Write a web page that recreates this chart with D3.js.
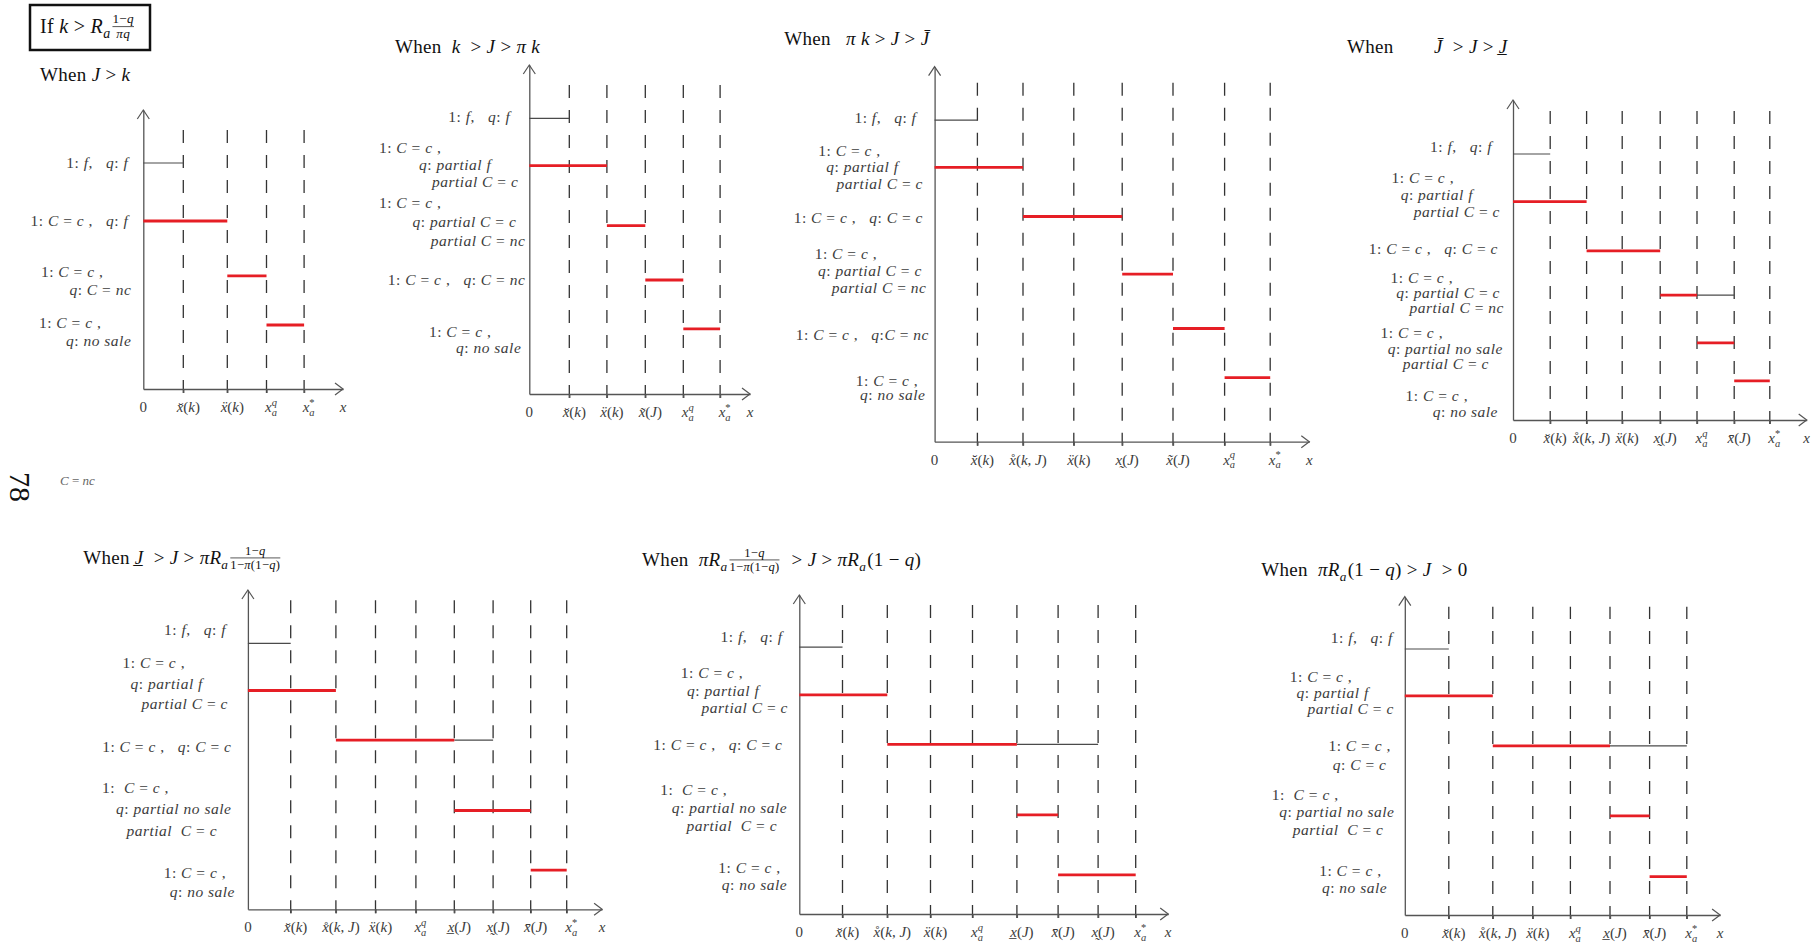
<!DOCTYPE html>
<html>
<head>
<meta charset="utf-8">
<script src="https://cdn.jsdelivr.net/npm/d3@7"></script>
<style>
  body { margin: 0; background: #fff; }
  svg { display: block; }
  text { font-family: "Liberation Serif", "Times New Roman", serif; }
</style>
</head>
<body>
<svg id="chart"></svg>
<script>
// ---- DATA ----
// \r{..} = roman text, _ / ^ = sub / sup, \f{num}{den} = small fraction
const boxTitle = "\\r{If} k > R_a\\f{1−q}{πq}";
const panelTitles = [
  "\\r{When} J > k",
  "\\r{When}  k  > J > π k",
  "\\r{When}   π k > J > J\u0304",
  "\\r{When}        J\u0304  > J > J\u0332",
  "\\r{When} J\u0332  > J > πR_a\\f{1−q}{1−π(1−q)}",
  "\\r{When}  πR_a\\f{1−q}{1−π(1−q)}  > J > πR_a(1 − q)",
  "\\r{When}  πR_a(1 − q) > J  > 0"
];

// thresholds on the x axis (index 0 is the origin)
const tickValues = [
  [0, 1.0, 2.1, 3.08, 4.02],
  [0, 1.0, 1.94, 2.9, 3.85, 4.77],
  [0, 1.07, 2.21, 3.48, 4.69, 5.96, 7.25, 8.39],
  [0, 0.93, 1.84, 2.73, 3.68, 4.6, 5.53, 6.42],
  [0, 1.07, 2.2, 3.19, 4.2, 5.16, 6.13, 7.07, 7.97],
  [0, 1.08, 2.2, 3.28, 4.33, 5.44, 6.47, 7.47, 8.41],
  [0, 1.1, 2.2, 3.2, 4.14, 5.13, 6.12, 7.05]
];
const XB = "x\u0306(k)", XR = "x\u030A(k, J)", XD = "x\u0308(k)", XQ = "x_a^q", XS = "x_a^*";
const XT = "x\u0303(J)", XU = "x\u0332(J)", XW = "x\u0330(J)", XO = "x\u0304(J)";
const tickLabels = [
  ["0", XB, XD, XQ, XS],
  ["0", XB, XD, XT, XQ, XS],
  ["0", XB, XR, XD, XW, XT, XQ, XS],
  ["0", XB, XR, XD, XW, XQ, XO, XS],
  ["0", XB, XR, XD, XQ, XU, XW, XO, XS],
  ["0", XB, XR, XD, XQ, XU, XO, XW, XS],
  ["0", XB, XR, XD, XQ, XU, XO, XS]
];

// height of each outcome row
const rowLevels = [
  [5.65, 4.2, 2.83, 1.6],
  [6.89, 5.71, 4.21, 2.85, 1.63],
  [8.04, 6.86, 5.63, 4.19, 2.83, 1.6],
  [6.65, 5.46, 4.23, 3.12, 1.93, 0.98],
  [6.65, 5.47, 4.23, 2.47, 0.98],
  [6.67, 5.48, 4.24, 2.48, 0.98],
  [6.65, 5.48, 4.23, 2.48, 0.96]
];

const FF = ["1: f,   q: f"];
const PF = ["1: C = c ,", "q: partial f", "partial C = c"];
const PC = ["1: C = c ,", "q: partial C = c", "partial C = nc"];
const PN = ["1:  C = c ,", "q: partial no sale", "partial  C = c"];
const NS = ["1: C = c ,", "q: no sale"];
const rowLabels = [
  [FF, ["1: C = c ,   q: f"], ["1: C = c ,", "q: C = nc"], NS],
  [FF, PF, PC, ["1: C = c ,   q: C = nc"], NS],
  [FF, PF, ["1: C = c ,   q: C = c"], PC, ["1: C = c ,   q:C = nc"], NS],
  [FF, PF, ["1: C = c ,   q: C = c"], PC, ["1: C = c ,", "q: partial no sale", "partial C = c"], NS],
  [FF, PF, ["1: C = c ,   q: C = c"], PN, NS],
  [FF, PF, ["1: C = c ,   q: C = c"], PN, NS],
  [FF, PF, ["1: C = c ,", "q: C = c"], PN, NS]
];

// [row, from tick, to tick, kind]  r = equilibrium (red), k = other
const segments = [
  [[0, 0, 1, "k"], [1, 0, 2, "r"], [2, 2, 3, "r"], [3, 3, 4, "r"]],
  [[0, 0, 1, "k"], [1, 0, 2, "r"], [2, 2, 3, "r"], [3, 3, 4, "r"], [4, 4, 5, "r"]],
  [[0, 0, 1, "k"], [1, 0, 2, "r"], [2, 2, 4, "r"], [3, 4, 5, "r"], [4, 5, 6, "r"], [5, 6, 7, "r"]],
  [[0, 0, 1, "k"], [1, 0, 2, "r"], [2, 2, 4, "r"], [3, 5, 6, "k"], [3, 4, 5, "r"], [4, 5, 6, "r"], [5, 6, 7, "r"]],
  [[0, 0, 1, "k"], [1, 0, 2, "r"], [2, 5, 6, "k"], [2, 2, 5, "r"], [3, 5, 7, "r"], [4, 7, 8, "r"]],
  [[0, 0, 1, "k"], [1, 0, 2, "r"], [2, 5, 7, "k"], [2, 2, 5, "r"], [3, 5, 6, "r"], [4, 6, 8, "r"]],
  [[0, 0, 1, "k"], [1, 0, 2, "r"], [2, 5, 7, "k"], [2, 2, 5, "r"], [3, 5, 6, "r"], [4, 6, 7, "r"]]
];

// ---- LAYOUT ----
// rows: [block offset, line height, right gap of each line]
const UNIT = 40;
const panelLayout = [
  { ox: 143.3, oy: 389, xEnd: 343, yTop: 110, tx: 40, ty: 81,
    rows: [[0, 0, 15], [0, 0, 15], [5, 18, 40, 12], [7, 18, 42, 12]] },
  { ox: 529.3, oy: 394, xEnd: 750, yTop: 65, tx: 395, ty: 52.7,
    rows: [[-1.6, 0, 19], [-0.7, 17, 88, 38, 11], [-3.7, 19, 88, 13, 4], [0, 0, 4], [11, 16, 38, 8]] },
  { ox: 934.6, oy: 441.7, xEnd: 1309.3, yTop: 66.7, tx: 784.3, ty: 45,
    rows: [[-2.3, 0, 18.2], [-0.3, 16.5, 53.9, 36, 11.7], [1, 0, 11.7], [-3, 17, 57.5, 12.8, 8.2], [6.3, 0, 5.7], [10.6, 14, 16.4, 9.2]] },
  { ox: 1513, oy: 420, xEnd: 1806.7, yTop: 100, tx: 1347, ty: 52.7,
    rows: [[-7.3, 0, 21], [-6.5, 17.3, 59, 40, 13], [-1.7, 0, 15], [-1.8, 15, 60, 13, 9], [6, 15.5, 70, 10, 24], [22.9, 15.7, 45, 15]] },
  { ox: 247.9, oy: 909.3, xEnd: 602.1, yTop: 590, tx: 83.2, ty: 564,
    rows: [[-13.3, 0, 21.8], [-6.9, 20.5, 62.9, 45, 20], [6.7, 0, 16.5], [-1.2, 21.2, 79, 16.5, 30.8], [12.5, 19, 21.8, 12.9]] },
  { ox: 799.3, oy: 914, xEnd: 1168.2, yTop: 595, tx: 642.1, ty: 566,
    rows: [[-10.6, 0, 16.8], [-3.9, 17.5, 56.1, 40, 11.4], [0.7, 0, 16.8], [-6.7, 18.3, 72.2, 12.2, 22.2], [1.7, 16.7, 18.6, 12.2]] },
  { ox: 1404.8, oy: 915, xEnd: 1720.1, yTop: 596.7, tx: 1261.3, ty: 576,
    rows: [[-10.7, 0, 12.1], [-3, 16.3, 52.6, 36, 11], [9.5, 19, 14, 18.4], [-3.5, 17.5, 66.2, 10.3, 21.3], [3, 17.3, 23.2, 17.6]] }
];

const RED = "#e61e25", GRAY = "#4a4a4a", TXT = "#3c3c3c";
const LABEL_SIZE = 15.5, TICK_SIZE = 15, TITLE_SIZE = 19;
const W = 1817, H = 943;

// ---- MATH TEXT ----
const COMB = /[\u0300-\u036f]/;
function tokenize(str) {
  const out = [];
  let i = 0;
  function group() {
    let depth = 0;
    const start = i;
    for (; i < str.length; i++) {
      if (str[i] === "{") depth++;
      else if (str[i] === "}") {
        depth--;
        if (depth === 0) { i++; return str.slice(start + 1, i - 1); }
      }
    }
    return str.slice(start + 1);
  }
  function arg() {
    if (str[i] === "{") return group();
    let s = str[i++];
    while (i < str.length && COMB.test(str[i])) s += str[i++];
    return s;
  }
  while (i < str.length) {
    const c = str[i];
    if (c === "_" || c === "^") { i++; out.push({ type: c === "_" ? "sub" : "sup", s: arg() }); }
    else if (str.startsWith("\\f", i)) { i += 2; const num = group(); const den = group(); out.push({ type: "frac", num, den }); }
    else if (str.startsWith("\\r", i)) { i += 2; out.push({ type: "rm", s: group() }); }
    else {
      let s = c; i++;
      while (i < str.length && COMB.test(str[i])) s += str[i++];
      out.push({ type: "ch", s });
    }
  }
  return out;
}

// split plain text into italic (letters) and roman runs
function runs(s) {
  const res = [];
  let i = 0;
  while (i < s.length) {
    let ch = s[i++];
    while (i < s.length && COMB.test(s[i])) ch += s[i++];
    const it = /[A-Za-zπ]/.test(ch[0]);
    const last = res[res.length - 1];
    if (last && (last.it === it || ch === " ")) last.s += ch;
    else res.push({ s: ch, it });
  }
  return res;
}

let spacing = 0;
function putText(g, s, x, y, fs, italic, color) {
  const t = g.append("text")
    .attr("x", x).attr("y", y)
    .attr("font-size", fs)
    .attr("font-style", italic ? "italic" : "normal")
    .attr("letter-spacing", spacing)
    .attr("fill", color)
    .attr("xml:space", "preserve")
    .text(s);
  return t.node().getComputedTextLength();
}

function putRuns(g, s, x, y, fs, color, roman) {
  let w = 0;
  runs(s).forEach((r) => { w += putText(g, r.s, x + w, y, fs, r.it && !roman, color); });
  return w;
}

function drawMath(parent, str, size, color) {
  const g = parent.append("g");
  let x = 0, buf = "", subX = null, prev = null;
  function flush() {
    if (buf) { x += putRuns(g, buf, x, 0, size, color, false); buf = ""; }
  }
  tokenize(str).forEach((tk) => {
    if (tk.type === "ch") { buf += tk.s; prev = "ch"; return; }
    flush();
    if (tk.type === "rm") { x += putRuns(g, tk.s, x, 0, size, color, true); prev = "rm"; }
    else if (tk.type === "sub") {
      subX = x;
      x += putRuns(g, tk.s, x, size * 0.25, size * 0.7, color, false) + 1;
      prev = "sub";
    } else if (tk.type === "sup") {
      const sx = prev === "sub" ? subX : x;
      const w = putRuns(g, tk.s, sx, -size * 0.42, size * 0.7, color, false) + 1;
      x = Math.max(x, sx + w);
      prev = "sup";
    } else if (tk.type === "frac") {
      const fs = size * 0.66;
      const ng = g.append("g"), dg = g.append("g");
      const wn = putRuns(ng, tk.num, 0, -size * 0.5, fs, color, false);
      const wd = putRuns(dg, tk.den, 0, size * 0.27, fs, color, false);
      const w = Math.max(wn, wd) + 2;
      ng.attr("transform", `translate(${x + 1 + (w - 2 - wn) / 2},0)`);
      dg.attr("transform", `translate(${x + 1 + (w - 2 - wd) / 2},0)`);
      g.append("line")
        .attr("x1", x + 1).attr("x2", x + w - 1)
        .attr("y1", -size * 0.32).attr("y2", -size * 0.32)
        .attr("stroke", color).attr("stroke-width", 0.7);
      x += w + 1;
      prev = "frac";
    }
  });
  flush();
  return { g, w: x };
}

function place(parent, str, x, y, size, color, anchor, ls) {
  spacing = ls || 0;
  const m = drawMath(parent, str, size, color);
  const dx = anchor === "end" ? m.w : anchor === "middle" ? m.w / 2 : 0;
  m.g.attr("transform", `translate(${x - dx},${y})`);
  spacing = 0;
  return m;
}

// ---- DRAW ----
const svg = d3.select("#chart").attr("width", W).attr("height", H);
svg.append("rect").attr("width", W).attr("height", H).attr("fill", "#fff");

// boxed condition
svg.append("rect")
  .attr("x", 30).attr("y", 5).attr("width", 120).attr("height", 45)
  .attr("fill", "none").attr("stroke", "#111").attr("stroke-width", 2.5);
place(svg, boxTitle, 40, 33, 20, "#111", "start", 0.3);

// page number and stray text
svg.append("text")
  .attr("transform", "translate(10,487) rotate(90)")
  .attr("text-anchor", "middle")
  .attr("font-size", 30)
  .attr("fill", "#111")
  .text("78");
place(svg, "C = nc", 60, 485, 13, "#666", "start");

panelLayout.forEach((L, p) => {
  const ticks = tickValues[p];
  const x = d3.scaleLinear().domain([0, (L.xEnd - L.ox) / UNIT]).range([L.ox, L.xEnd]);
  const y = d3.scaleLinear().domain([0, (L.oy - L.yTop) / UNIT]).range([L.oy, L.yTop]);
  const g = svg.append("g").attr("class", "panel");

  // dashed guides at each threshold
  g.selectAll("line.guide")
    .data(ticks.slice(1))
    .join("line")
    .attr("class", "guide")
    .attr("x1", (d) => x(d)).attr("x2", (d) => x(d))
    .attr("y1", L.oy + 4).attr("y2", L.yTop + 10)
    .attr("stroke", "#333").attr("stroke-width", 1.3)
    .attr("stroke-dasharray", "13,12");

  // axes
  const xAxis = g.append("g")
    .attr("transform", `translate(0,${L.oy})`)
    .call(d3.axisBottom(x).tickValues(ticks.slice(1)).tickSizeInner(4).tickSizeOuter(0).tickFormat(""));
  const yAxis = g.append("g")
    .attr("transform", `translate(${L.ox},0)`)
    .call(d3.axisLeft(y).tickValues([]).tickSizeOuter(0));
  [xAxis, yAxis].forEach((a) => {
    a.selectAll("path,line").attr("stroke", "#555").attr("stroke-width", 1.3);
  });

  // open arrowheads
  g.append("path")
    .attr("d", `M${L.xEnd - 8},${L.oy - 6}L${L.xEnd},${L.oy}L${L.xEnd - 8},${L.oy + 6}`)
    .attr("fill", "none").attr("stroke", "#555").attr("stroke-width", 1.2);
  g.append("path")
    .attr("d", `M${L.ox - 6},${L.yTop + 9}L${L.ox},${L.yTop}L${L.ox + 6},${L.yTop + 9}`)
    .attr("fill", "none").attr("stroke", "#555").attr("stroke-width", 1.2);

  // outcome segments
  g.selectAll("line.seg")
    .data(segments[p])
    .join("line")
    .attr("class", "seg")
    .attr("x1", (d) => x(ticks[d[1]]))
    .attr("x2", (d) => x(ticks[d[2]]))
    .attr("y1", (d) => y(rowLevels[p][d[0]]))
    .attr("y2", (d) => y(rowLevels[p][d[0]]))
    .attr("stroke", (d) => (d[3] === "r" ? RED : GRAY))
    .attr("stroke-width", (d) => (d[3] === "r" ? 2.8 : 1.2));

  // tick labels
  tickLabels[p].forEach((lab, i) => {
    place(g, lab, x(ticks[i]) + (i ? 5 : 0), L.oy + 23, TICK_SIZE, TXT, "middle");
  });
  place(g, "x", L.xEnd, L.oy + 23, TICK_SIZE, TXT, "middle");

  // row labels
  rowLabels[p].forEach((lines, r) => {
    const [off, lh, ...gaps] = L.rows[r];
    const cy = y(rowLevels[p][r]) + off;
    lines.forEach((ln, i) => {
      const ly = cy + (i - (lines.length - 1) / 2) * lh + 5;
      place(g, ln, L.ox - gaps[i], ly, LABEL_SIZE, TXT, "end", 0.5);
    });
  });

  // title
  place(g, panelTitles[p], L.tx, L.ty, TITLE_SIZE, "#111", "start", 0.3);
});
</script>
</body>
</html>
